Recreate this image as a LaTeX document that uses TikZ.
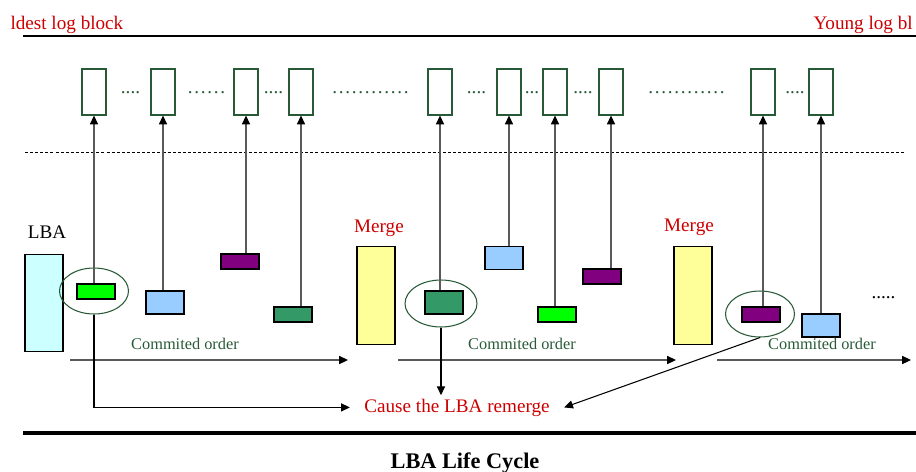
\documentclass[tikz,border=0pt]{standalone}
\usepackage{fontspec}
\setmainfont{Liberation Serif}
\usepackage{xcolor}
\usepackage{tikz}
\usetikzlibrary{positioning}
\usetikzlibrary{calc}
\usetikzlibrary{shapes}
\usetikzlibrary{arrows.meta}

\definecolor{lbaRed}{RGB}{204,0,0}
\definecolor{lbaDkGreen}{RGB}{40,90,55}
\definecolor{lbaCyan}{RGB}{204,255,255}
\definecolor{lbaYellow}{RGB}{255,255,153}
\definecolor{lbaGreen}{RGB}{0,255,0}
\definecolor{lbaBlue}{RGB}{153,204,255}
\definecolor{lbaPurple}{RGB}{128,0,128}
\definecolor{lbaSea}{RGB}{51,153,102}

\begin{document}
\begin{tikzpicture}[
    x=0.02cm, y=-0.02cm, % one unit is one pixel of the sketch
    >={Triangle[length=5pt,width=4.6pt,color=black]}, % arrow head style
    semithick,
    % Styling for the nodes
    logBlock/.style={
        rectangle,
        draw=lbaDkGreen,
        minimum width=0.48cm,
        minimum height=0.92cm,
        inner sep=0pt
    },
    entryBox/.style={
        rectangle,
        draw,
        minimum width=0.76cm,
        minimum height=0.3cm,
        inner sep=0pt
    },
    tallEntry/.style={entryBox, minimum height=0.46cm},
    bigBox/.style={
        rectangle,
        draw,
        minimum width=0.76cm,
        minimum height=1.95cm,
        inner sep=0pt
    },
    markEllipse/.style={
        ellipse,
        draw=lbaDkGreen,
        minimum width=1.38cm,
        minimum height=0.92cm,
        inner sep=0pt
    },
    bigText/.style={font=\fontsize{10.9}{13}\selectfont, anchor=base, inner sep=0pt},
    redText/.style={bigText, text=lbaRed},
    dotText/.style={bigText, text=lbaDkGreen},
    wideDots/.style={dotText, font=\fontsize{10.9}{13}\selectfont\addfontfeature{LetterSpace=9}},
    orderText/.style={text=lbaDkGreen, font=\fontsize{9.3}{11}\selectfont, anchor=base, inner sep=0pt},
    link/.style={->, draw=black!65}
]

    \useasboundingbox (0,0) rectangle (916,471);

    % Header
    \node[redText, anchor=base west] (oldLabel) at (10,29) {ldest log block};
    \node[redText, anchor=base west] (youngLabel) at (813,29) {Young log bl};
    \draw[line width=1.2pt] (23,36) -- (916,36);

    % Log blocks
    \foreach \x [count=\i] in {94,163,246,301,440,509,555,611,763,821}
        \node[logBlock] (L\i) at (\x,92) {};

    \node[dotText] (d1) at (130.5,93.5) {....};
    \node[wideDots] (d2) at (206.5,93.5) {......};
    \node[dotText] (d3) at (273.5,93.5) {....};
    \node[wideDots] (d4) at (370.5,93.5) {............};
    \node[dotText] (d5) at (476.5,93.5) {....};
    \node[dotText] (d6) at (532,93.5) {...};
    \node[dotText] (d7) at (583,93.5) {....};
    \node[wideDots] (d8) at (686.5,93.5) {............};
    \node[dotText] (d9) at (795,93.5) {....};

    \draw[thin, dash pattern=on 1.7pt off 1.2pt] (25,152) -- (905,152);

    % LBA and merge boxes
    \node[bigText] (lbaLabel) at (47,238) {LBA};
    \node[bigBox, fill=lbaCyan] (lba) at (44,303) {};
    \node[redText] (merge1) at (379,232) {Merge};
    \node[bigBox, fill=lbaYellow] (y1) at (376,295.5) {};
    \node[redText] (merge2) at (689,231) {Merge};
    \node[bigBox, fill=lbaYellow] (y2) at (693,295.5) {};

    % Marked entries
    \node[markEllipse] (m1) at (94,291) {};
    \node[markEllipse, minimum width=1.44cm, minimum height=0.94cm] (m2) at (441,303.5) {};
    \node[markEllipse] (m3) at (760,314) {};

    % Log entries
    \node[entryBox, fill=lbaGreen] (e1) at (96,291.5) {};
    \node[tallEntry, fill=lbaBlue] (e2) at (165,302.5) {};
    \node[entryBox, fill=lbaPurple] (e3) at (240,261.5) {};
    \node[entryBox, fill=lbaSea] (e4) at (293,314.5) {};
    \node[tallEntry, fill=lbaSea] (e5) at (444,302.5) {};
    \node[tallEntry, fill=lbaBlue] (e6) at (504,258) {};
    \node[entryBox, fill=lbaGreen] (e7) at (557,314.5) {};
    \node[entryBox, fill=lbaPurple] (e8) at (602,276.5) {};
    \node[entryBox, fill=lbaPurple] (e9) at (761,314.5) {};
    \node[tallEntry, fill=lbaBlue] (e10) at (821,325.5) {};
    \node[bigText, text=black] (more) at (883.5,298) {.....};

    % Committed order
    \node[orderText] (order1) at (185,349) {Commited order};
    \node[orderText] (order2) at (522,349) {Commited order};
    \node[orderText] (order3) at (822,349) {Commited order};
    \coordinate (ord1a) at (70,360);
    \coordinate (ord1b) at (348,360);
    \coordinate (ord2a) at (398,360);
    \coordinate (ord2b) at (676,360);
    \coordinate (ord3a) at (717,360);
    \coordinate (ord3b) at (911,360);

    \node[redText, inner xsep=0.28cm, inner ysep=0.06cm] (cause) at (457,412) {Cause the LBA remerge};

    % Draw Edges
    \foreach \i in {1,...,10}
        \draw[link] (L\i |- e\i.north) -- (L\i.south);
    \draw[link] (ord1a) -- (ord1b);
    \draw[link] (ord2a) -- (ord2b);
    \draw[link] (ord3a) -- (ord3b);
    \draw[->] (m1.south) |- (cause.west);
    \draw[->] (m2.south) -- (m2.south |- cause.north);
    \draw[->] (m3.south) -- (cause.east);

    % Footer
    \draw[line width=1.8pt] (23,433) -- (916,433);
    \node[font=\fontsize{12.7}{15}\selectfont\bfseries, anchor=base, inner sep=0pt] (title) at (465,468) {LBA Life Cycle};

\end{tikzpicture}
\end{document}
